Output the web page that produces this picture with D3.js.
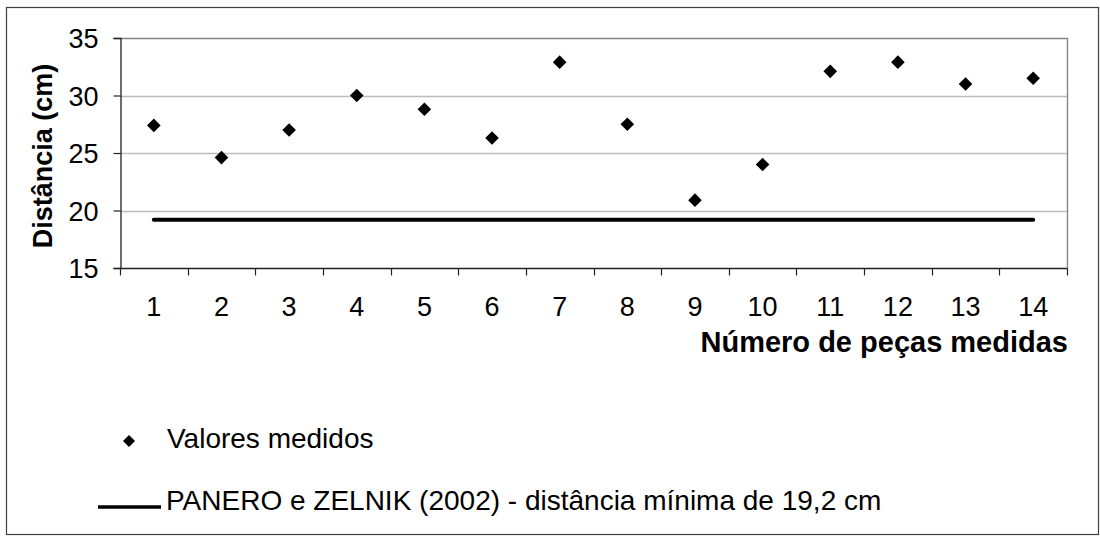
<!DOCTYPE html>
<html><head><meta charset="utf-8">
<script src="https://cdn.jsdelivr.net/npm/d3@7"></script>
<style>html,body{margin:0;padding:0;background:#fff;} svg{display:block;font-family:"Liberation Sans",Arial,sans-serif;}</style>
</head><body>
<svg id="c" width="1100" height="536"></svg>
<script>
const categories = ["1","2","3","4","5","6","7","8","9","10","11","12","13","14"];
const measured = [27.4, 24.6, 27.0, 30.0, 28.8, 26.3, 32.9, 27.5, 20.9, 24.0, 32.1, 32.9, 31.0, 31.5];
const minDistance = 19.2;
const yTicks = [15, 20, 25, 30, 35];
const xTitle = "Número de peças medidas";
const yTitle = "Distância (cm)";
const legendLabels = ["Valores medidos", "PANERO e ZELNIK (2002) - distância mínima de 19,2 cm"];

const svg = d3.select("#c");
const L = 120, R = 1067, T = 38, B = 268;
const x = d3.scaleBand().domain(categories).range([L, R]);
const y = d3.scaleLinear().domain([15, 35]).range([B, T]);

// outer border
svg.append("rect").attr("x", 6.5).attr("y", 7.5).attr("width", 1092).attr("height", 527)
  .attr("fill", "#fff").attr("stroke", "#404040").attr("stroke-width", 1.2);

// gridlines
svg.append("g").selectAll("line").data(yTicks.filter(d => d > 15 && d < 35)).join("line")
  .attr("x1", L).attr("x2", R).attr("y1", d => Math.round(y(d)) + 0.5).attr("y2", d => Math.round(y(d)) + 0.5)
  .attr("stroke", "#bdbdbd").attr("stroke-width", 1.4);
// plot border top/right
svg.append("path").attr("d", `M${L},${T + 0.5}H${R + 0.5}V${B}`).attr("fill", "none")
  .attr("stroke", "#858585").attr("stroke-width", 1.4);

// y axis
const yAxis = svg.append("g").attr("transform", `translate(${L + 0.5},0)`)
  .call(d3.axisLeft(y).tickValues(yTicks).tickSize(7).tickPadding(15).tickFormat(d3.format("d")));
yAxis.select(".domain").attr("stroke", "#222").attr("stroke-width", 1.3);
yAxis.selectAll(".tick line").attr("stroke", "#222").attr("stroke-width", 1.2);
yAxis.selectAll(".tick text").attr("font-size", 27).attr("font-family", "Liberation Sans, Arial, sans-serif")
  .attr("fill", "#000").attr("dy", "0.36em");

// x axis with ticks at band boundaries
const xAxisG = svg.append("g").attr("transform", `translate(0,${B + 0.5})`);
xAxisG.append("line").attr("x1", L).attr("x2", R + 0.5).attr("stroke", "#222").attr("stroke-width", 1.3);
const bounds = categories.map(c => x(c)).concat([R]);
xAxisG.selectAll("line.tk").data(bounds).join("line").attr("class", "tk")
  .attr("x1", d => Math.round(d) + 0.5).attr("x2", d => Math.round(d) + 0.5).attr("y1", 0).attr("y2", 7)
  .attr("stroke", "#222").attr("stroke-width", 1.2);
xAxisG.selectAll("text").data(categories).join("text")
  .attr("x", d => x(d) + x.bandwidth() / 2).attr("y", 47).attr("text-anchor", "middle")
  .attr("font-size", 27).attr("fill", "#000").text(d => d);

// reference line
const lineGen = d3.line().x(d => x(d) + x.bandwidth() / 2).y(() => y(minDistance));
svg.append("path").datum([categories[0], categories[categories.length - 1]]).attr("d", lineGen)
  .attr("stroke", "#000").attr("stroke-width", 4).attr("stroke-linecap", "round").attr("fill", "none");

// diamonds
const diamond = s => `M0,${-s}L${s},0L0,${s}L${-s},0Z`;
svg.append("g").selectAll("path").data(measured).join("path")
  .attr("transform", (d, i) => `translate(${x(categories[i]) + x.bandwidth() / 2},${y(d)})`)
  .attr("d", diamond(6.8)).attr("fill", "#000");

// axis titles
svg.append("text").attr("x", R + 1).attr("y", 352).attr("text-anchor", "end")
  .attr("font-size", 29).attr("font-weight", "bold").attr("fill", "#000").text(xTitle);
svg.append("text").attr("transform", `translate(52,${(T + B) / 2 + 3}) rotate(-90)`).attr("text-anchor", "middle")
  .attr("font-size", 27).attr("font-weight", "bold").attr("fill", "#000").text(yTitle);

// legend
svg.append("path").attr("transform", "translate(129,441)").attr("d", diamond(6)).attr("fill", "#000");
svg.append("text").attr("x", 167).attr("y", 448).attr("font-size", 28).attr("fill", "#000").text(legendLabels[0]);
svg.append("line").attr("x1", 98).attr("x2", 161).attr("y1", 507).attr("y2", 507).attr("stroke", "#000").attr("stroke-width", 3.5);
svg.append("text").attr("x", 166).attr("y", 510).attr("font-size", 28).attr("fill", "#000").text(legendLabels[1]);
</script>
</body></html>
